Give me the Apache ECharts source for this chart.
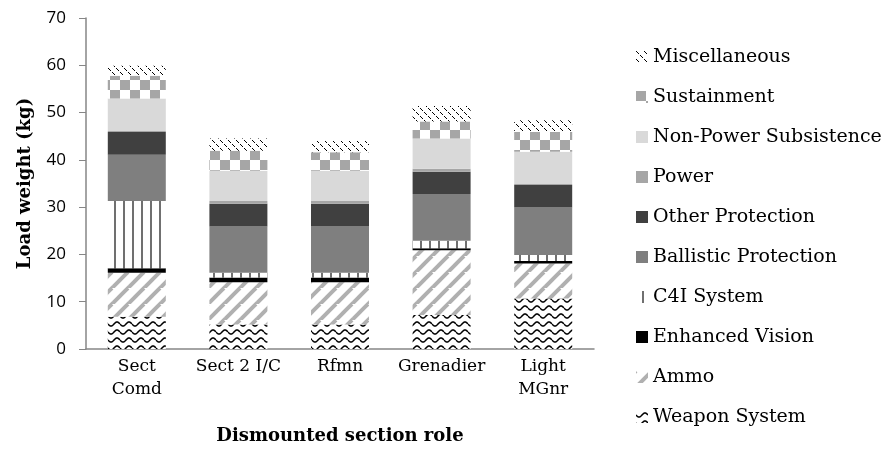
<!DOCTYPE html>
<html><head><meta charset="utf-8">
<script src="https://cdn.jsdelivr.net/npm/echarts@6/dist/echarts.min.js"></script>
<style>html,body{margin:0;padding:0;background:#fff}#c{width:886px;height:455px}</style>
</head><body><div id="c"></div>
<script>
const categories = ['Sect\nComd', 'Sect 2 I/C', 'Rfmn', 'Grenadier', 'Light\nMGnr'];
const weaponSystem = [6.8, 5.2, 5.2, 7.2, 10.7];
const ammo = [9.3, 8.9, 8.9, 13.7, 7.4];
const enhancedVision = [1.0, 1.0, 1.0, 0.4, 0.5];
const c4iSystem = [14.2, 1.0, 1.0, 1.6, 1.3];
const ballisticProtection = [9.8, 9.8, 9.8, 9.9, 10.0];
const otherProtection = [4.8, 4.8, 4.8, 4.7, 4.8];
const power = [0.2, 0.6, 0.6, 0.6, 0.2];
const nonPowerSubsistence = [6.9, 6.4, 6.4, 6.4, 6.8];
const sustainment = [4.8, 4.2, 3.9, 3.6, 4.2];
const miscellaneous = [2.1, 2.6, 2.4, 3.3, 2.5];
const yTicks = [0, 10, 20, 30, 40, 50, 60, 70];

function mk(w, h, draw) {
  const c = document.createElement('canvas'); c.width = w; c.height = h;
  const g = c.getContext('2d'); g.fillStyle = '#fff'; g.fillRect(0, 0, w, h); draw(g);
  return { image: c, repeat: 'repeat' };
}
const pWeapon = mk(12, 8, g => {
  g.strokeStyle = '#000'; g.lineWidth = 1.6; g.beginPath();
  for (let x = 0; x <= 12; x += 0.5) { const y = 4 + 2 * Math.sin(x / 12 * 2 * Math.PI); if (x === 0) g.moveTo(x, y); else g.lineTo(x, y); }
  g.stroke();
});
const pAmmo = mk(16, 16, g => {
  g.strokeStyle = '#b0b0b0'; g.lineWidth = 4;
  [[-16, 16, 0, 0], [0, 16, 16, 0], [0, 32, 32, 0]].forEach(s => { g.beginPath(); g.moveTo(s[0], s[1]); g.lineTo(s[2], s[3]); g.stroke(); });
});
const pC4I = mk(9, 4, g => { g.fillStyle = '#707070'; g.fillRect(6, 0, 2, 4); });
const pSust = mk(20, 20, g => { g.fillStyle = '#a6a6a6'; g.fillRect(0, 0, 10, 10); g.fillRect(10, 10, 10, 10); });
const pMisc = mk(8, 8, g => { g.fillStyle = '#000'; for (let i = 0; i < 8; i++) { if (i % 4 !== 3) g.fillRect(i, i, 1, 1); } });

const serif = 'DejaVu Serif';
const series = [
  ['Weapon System', weaponSystem, pWeapon],
  ['Ammo', ammo, pAmmo],
  ['Enhanced Vision', enhancedVision, '#000000'],
  ['C4I System', c4iSystem, pC4I],
  ['Ballistic Protection', ballisticProtection, '#7f7f7f'],
  ['Other Protection', otherProtection, '#404040'],
  ['Power', power, '#a6a6a6'],
  ['Non-Power Subsistence', nonPowerSubsistence, '#d9d9d9'],
  ['Sustainment', sustainment, pSust],
  ['Miscellaneous', miscellaneous, pMisc]
].map(s => ({ name: s[0], type: 'bar', stack: 'total', data: s[1], barWidth: 58, itemStyle: { color: s[2] } }));

const chart = echarts.init(document.getElementById('c'), null, { renderer: 'canvas' });
chart.setOption({
  animation: false,
  backgroundColor: '#fff',
  grid: { left: 86, right: 292, top: 18, bottom: 106, containLabel: false },
  legend: {
    orient: 'vertical', left: 631, top: 42, itemWidth: 12, itemHeight: 12, itemGap: 20,
    icon: 'rect',
    data: series.map(s => s.name).reverse(),
    textStyle: { fontFamily: serif, fontSize: 19, color: '#000', lineHeight: 20 }
  },
  xAxis: {
    type: 'category', data: categories,
    axisLine: { lineStyle: { color: '#868686', width: 1.5 } },
    axisTick: { show: false },
    axisLabel: { fontFamily: serif, fontSize: 17, color: '#000', lineHeight: 23, margin: 6, interval: 0 },
    name: 'Dismounted section role', nameLocation: 'middle', nameGap: 78,
    nameTextStyle: { fontFamily: serif, fontWeight: 'bold', fontSize: 18, color: '#000' }
  },
  yAxis: {
    type: 'value', min: yTicks[0], max: yTicks[yTicks.length - 1], interval: 10,
    splitLine: { show: false },
    axisLine: { show: true, lineStyle: { color: '#868686', width: 1.5 } },
    axisTick: { show: true, length: 7, lineStyle: { color: '#868686' } },
    axisLabel: { fontFamily: 'Open Sans', fontSize: 17, color: '#000', margin: 20 },
    name: 'Load weight (kg)', nameLocation: 'middle', nameGap: 52, nameRotate: 90,
    nameTextStyle: { fontFamily: serif, fontWeight: 'bold', fontSize: 18, color: '#000' }
  },
  series: series
});
</script></body></html>
